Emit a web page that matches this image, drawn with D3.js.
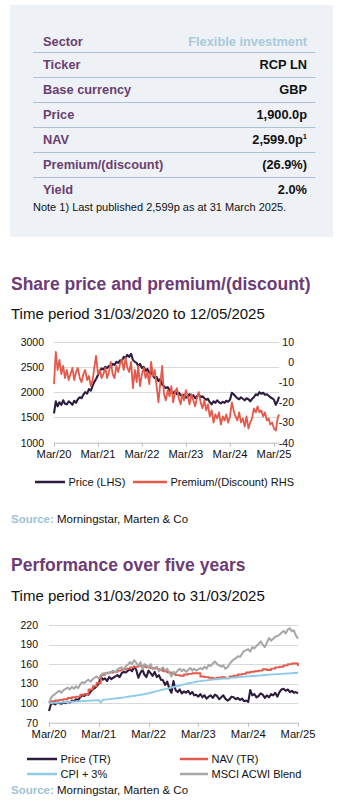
<!DOCTYPE html>
<html><head><meta charset="utf-8">
<script src="https://cdn.jsdelivr.net/npm/d3@7"></script>
<style>body{margin:0;background:#fff}svg{display:block}text{font-family:"Liberation Sans",Arial,sans-serif}</style>
</head><body><svg id="c" width="343" height="801"></svg>
<script>
// ---------- DATA ----------
const tableLabels = ["Sector","Ticker","Base currency","Price","NAV","Premium/(discount)","Yield"];
const tableValues = ["Flexible investment","RCP LN","GBP","1,900.0p","2,599.0p","(26.9%)","2.0%"];
const tableNote = "Note 1) Last published 2,599p as at 31 March 2025.";

const title1 = "Share price and premium/(discount)";
const subtitle1 = "Time period 31/03/2020 to 12/05/2025";
const title2 = "Performance over five years";
const subtitle2 = "Time period 31/03/2020 to 31/03/2025";

const xTickLabels = ["Mar/20","Mar/21","Mar/22","Mar/23","Mar/24","Mar/25"];
const leftTicks1 = [1000,1500,2000,2500,3000];
const rightTicks1 = [-40,-30,-20,-10,0,10];
const yTicks2 = [70,100,130,160,190,220];

// semi-monthly (mid / end of month) from 31/03/2020 to 12/05/2025
const sharePrice = [1580,
 1820,1720, 1800,1750, 1840,1770, 1760,1820, 1790,1750, 1830,1790, 1860,1900, 1880,1950, 2000,1970,
 2060,2030, 2130,2200, 2260,2340, 2420,2470, 2450,2500, 2480,2520, 2500,2560, 2540,2600, 2580,2630, 2620,2700, 2680,2740, 2700,2760,
 2640,2600, 2580,2520, 2560,2480, 2500,2420, 2460,2380, 2420,2330, 2280,2300, 2220,2260, 2150,2120, 2080,2100, 2040,2000, 1980,2020,
 1960,1990, 1940,1920, 1950,1890, 1920,1960, 1900,1940, 1880,1920, 1960,1900, 1920,1880, 1850,1870, 1800,1760, 1820,1790, 1840,1800,
 1780,1810, 1790,1830, 1810,1850, 1990,1960, 1920,1880, 1860,1900, 1870,1840, 1880,1860, 1820,1870, 1900,1960, 1940,2000, 1970,1990,
 1950,1960, 1930,1900, 1880,1850, 1750,1820, 1910];
const premiumDiscount = [-11,
 5,-4, 1,-6, -2,-8, -4,-9, -6,-3, -9,-5, -3,-8, -10,-6, -4,-9,
 -7,-12, -9,-3, 3,-6, -4,-8, -6,-3, -8,-5, 0,-6, -8,-2, -5,-1, 1,-4, 2,-3, -5,0,
 -13,-4, -10,-2, -12,-6, -3,-8, -5,-11, 0,-7, -4,-12, -20,-10, -2,-16, -19,-14, -17,-12, -20,-15,
 -13,-18, -21,-16, -19,-14, -17,-21, -16,-19, -22,-18, -15,-20, -23,-19, -24,-21, -27,-24, -30,-26, -28,-25,
 -31,-27, -29,-26, -30,-27, -20,-24, -27,-29, -25,-30, -28,-32, -27,-33, -30,-28, -23,-25, -22,-25, -24,-27,
 -25,-29, -28,-31, -30,-33, -34,-28, -26];

// semi-monthly from 31/03/2020 to 31/03/2025 (rebased to 100)
const priceTR = [88,
 99,100, 98,101, 100,99, 101,100, 102,101, 104,103, 106,105, 109,112, 111,114,
 113,118, 121,123, 126,130, 141,136, 138,134, 140,137, 139,141, 143,140, 146,148, 147,150, 152,149, 156,151,
 139,147, 151,144, 140,150, 146,142, 148,140, 143,136, 135,128, 133,122, 116,134, 120,117, 121,115, 118,116,
 119,114, 117,112, 113,110, 114,109, 112,107, 110,112, 108,113, 111,106, 109,112, 107,104, 106,110, 109,106,
 108,105, 107,103, 104,102, 120,112, 114,109, 111,115, 113,108, 112,109, 114,112, 116,110, 117,121, 122,119,
 121,117, 119,116, 117,115];
const navTR = [100,
 103,103, 104,104, 105,105, 106,106, 108,108, 109,109, 110,110, 113,113, 114,114,
 121,121, 126,126, 131,131, 143,143, 146,146, 147,147, 148,148, 150,150, 152,152, 153,153, 155,155, 156,156,
 157,157, 156,156, 155,155, 154,154, 153,153, 151,151, 149,149, 147,147, 145,145, 143,143, 142,142, 144,144,
 145,145, 146,146, 146,146, 141,141, 140,140, 139,139, 138,138, 139,139, 140,140, 138,138, 141,141, 142,142,
 144,144, 145,145, 147,147, 148,148, 149,149, 150,150, 152,152, 151,151, 153,153, 155,155, 156,156, 158,158,
 160,160, 161,161, 161,157];
const cpiPlus3 = [100,
 100.2,100.4, 100.5,100.7, 100.9,101.1, 101.3,101.5, 101.7,101.9, 102.1,102.3, 102.5,102.7, 102.9,103.1, 103.3,103.5,
 103.7,103.9, 104.1,104.3, 104.5,104.7, 101.0,105.2, 105.5,105.8, 106.2,106.5, 106.9,107.2, 107.6,108.0, 108.4,108.8, 109.3,109.8, 110.3,110.8, 111.3,111.8,
 112.3,112.8, 113.3,113.9, 114.5,115.2, 116.0,116.8, 117.6,118.4, 119.2,120.0, 120.8,121.6, 122.4,123.2, 124.0,124.8, 125.6,126.4, 127.2,128.0, 128.8,129.5,
 130.2,130.9, 131.6,132.2, 132.8,133.4, 133.8,134.2, 134.6,135.0, 135.4,135.8, 136.2,136.5, 136.8,137.1, 137.4,137.7, 138.0,138.3, 138.6,138.9, 139.2,139.5,
 139.8,140.1, 140.4,140.7, 141.0,141.2, 141.4,141.6, 141.8,142.0, 142.3,142.6, 142.9,143.2, 143.5,143.8, 144.0,144.2, 144.4,144.6, 144.8,145.0, 145.2,145.4,
 145.6,145.8, 146.0,146.2, 146.4,146.6];
const msciBlend = [100,
 108,112, 114,117, 119,116, 120,122, 124,121, 125,122, 126,123, 129,132, 131,134,
 136,133, 137,139, 141,138, 143,146, 144,147, 146,148, 150,147, 152,154, 155,151, 157,159, 163,160, 166,162,
 157,163, 152,160, 158,155, 160,152, 154,156, 149,152, 155,150, 153,147, 141,148, 146,150, 153,149, 152,148,
 151,154, 150,153, 150,152, 154,152, 156,153, 159,157, 161,164, 160,158, 156,158, 153,155, 160,164, 167,169,
 172,171, 176,180, 181,183, 179,186, 184,188, 191,195, 190,186, 193,200, 196,199, 202,203, 205,208, 211,207,
 213,215, 210,212, 204,199];

const legend1 = ["Price (LHS)","Premium/(Discount) RHS"];
const legend2 = ["Price (TR)","NAV (TR)","CPI + 3%","MSCI ACWI Blend"];

// ---------- HELPERS ----------
const startDate = new Date(2020, 2, 31);
function semiMonthlyDates(n, lastDate) {
  const out = [startDate];
  for (let i = 1; i < n; i++) {
    const k = Math.ceil(i / 2);
    out.push(i % 2 === 1 ? new Date(2020, 2 + k, 15) : new Date(2020, 3 + k, 0));
  }
  if (lastDate) out[n - 1] = lastDate;
  return out;
}
const tickDates = xTickLabels.map((_, j) => new Date(2020 + j, 2, 31));

const C = { purple: "#6e3b75", label: "#6a3f6f", dark: "#2e1c3e", red: "#e4594a", blue: "#8ecbe8", gray: "#a6a6a6", grid: "#d9d9d9", axis: "#bfbfbf", src: "#9dc4d6" };

const svg = d3.select("#c");

// ---------- TABLE ----------
svg.append("rect").attr("x", 10).attr("y", 5).attr("width", 323).attr("height", 232).attr("fill", "#eef2f6");
const tbl = svg.append("g");
const lineYs = d3.range(6).map(i => 52 + 25 * i);
tbl.selectAll("line.row").data(lineYs).join("line")
  .attr("x1", 33).attr("x2", 315.5).attr("y1", d => d + 0.5).attr("y2", d => d + 0.5)
  .attr("stroke", "#a9c3d2").attr("stroke-width", 1);
const baseY = i => i === 0 ? 45.7 : 69.3 + 25 * (i - 1);
tbl.selectAll("text.lab").data(tableLabels).join("text")
  .attr("x", 43).attr("y", (d, i) => baseY(i))
  .attr("font-size", 12.8).attr("font-weight", "bold").attr("fill", C.label).text(d => d);
tableValues.forEach((v, i) => {
  const t = tbl.append("text").attr("x", 307).attr("y", baseY(i)).attr("text-anchor", "end")
    .attr("font-size", 12.8).attr("font-weight", "bold").attr("fill", i === 0 ? "#a9cadb" : "#111");
  t.append("tspan").text(v);
  if (i === 4) t.append("tspan").attr("font-size", 7.5).attr("dy", -5).text("1");
});
tbl.append("text").attr("x", 33).attr("y", 211).attr("font-size", 11).attr("fill", "#111").text(tableNote);

// ---------- TITLES ----------
function titles(t, s, yT, yS) {
  svg.append("text").attr("x", 11).attr("y", yT).attr("font-size", 17.5).attr("font-weight", "bold").attr("fill", C.purple).text(t);
  svg.append("text").attr("x", 11).attr("y", yS).attr("font-size", 15).attr("fill", "#111").text(s);
}
function source(y) {
  const t = svg.append("text").attr("x", 11).attr("y", y).attr("font-size", 11.5);
  t.append("tspan").attr("font-weight", "bold").attr("fill", C.src).text("Source:");
  t.append("tspan").attr("fill", "#111").text(" Morningstar, Marten & Co");
}
function xAxis(x, y0, x0, x1) {
  const g = svg.append("g");
  g.append("line").attr("x1", x0).attr("x2", x1).attr("y1", y0 + 0.5).attr("y2", y0 + 0.5).attr("stroke", C.axis);
  g.selectAll("line.t").data(tickDates).join("line")
    .attr("x1", d => Math.round(x(d)) + 0.5).attr("x2", d => Math.round(x(d)) + 0.5)
    .attr("y1", y0).attr("y2", y0 + 4).attr("stroke", C.axis);
  g.selectAll("text").data(xTickLabels).join("text")
    .attr("x", (d, i) => x(tickDates[i])).attr("y", y0 + 15.5).attr("text-anchor", "middle")
    .attr("font-size", 11.2).attr("fill", "#111").text(d => d);
}
function legendItem(x, y, w, color, label) {
  svg.append("line").attr("x1", x).attr("x2", x + w).attr("y1", y).attr("y2", y).attr("stroke", color).attr("stroke-width", 2.5);
  svg.append("text").attr("x", x + w + 3.5).attr("y", y + 4).attr("font-size", 11).attr("fill", "#111").text(label);
}

// ---------- CHART 1 ----------
titles(title1, subtitle1, 289.5, 318.5);
{
  const dates = semiMonthlyDates(sharePrice.length, new Date(2025, 4, 12));
  const x = d3.scaleTime().domain([startDate, tickDates[5]]).range([54, 274]);
  const yL = d3.scaleLinear().domain([1000, 3000]).range([442.7, 341.7]);
  const yR = d3.scaleLinear().domain([-40, 10]).range([442.7, 341.7]);
  const xEnd = x(dates[dates.length - 1]);
  svg.append("g").selectAll("line").data(leftTicks1.filter(v => v > 1000)).join("line")
    .attr("x1", 54).attr("x2", xEnd).attr("y1", d => Math.round(yL(d)) + 0.5).attr("y2", d => Math.round(yL(d)) + 0.5)
    .attr("stroke", C.grid);
  svg.append("g").selectAll("text").data(leftTicks1).join("text")
    .attr("x", 44).attr("y", d => yL(d) + 3.8).attr("text-anchor", "end").attr("font-size", 10.5).attr("fill", "#111").text(d => d);
  svg.append("g").selectAll("text").data(rightTicks1).join("text")
    .attr("x", 294).attr("y", d => yR(d) + 3.8).attr("text-anchor", "end").attr("font-size", 10.5).attr("fill", "#111").text(d => d);
  xAxis(x, 442.7, 54, xEnd);
  svg.append("path").datum(sharePrice).attr("fill", "none").attr("stroke", C.dark).attr("stroke-width", 2.1)
    .attr("stroke-linejoin", "round").attr("d", d3.line().x((d, i) => x(dates[i])).y(d => yL(d)));
  svg.append("path").datum(premiumDiscount).attr("fill", "none").attr("stroke", C.red).attr("stroke-width", 1.8)
    .attr("stroke-linejoin", "round").attr("d", d3.line().x((d, i) => x(dates[i])).y(d => yR(d)));
  legendItem(35, 482, 30, C.dark, legend1[0]);
  legendItem(133, 482, 34, C.red, legend1[1]);
}
source(523);

// ---------- CHART 2 ----------
titles(title2, subtitle2, 571, 600.5);
{
  const dates = semiMonthlyDates(priceTR.length);
  const x = d3.scaleTime().domain([startDate, tickDates[5]]).range([49, 298]);
  const y = d3.scaleLinear().domain([70, 220]).range([722.7, 625]);
  svg.append("g").selectAll("line").data(yTicks2.filter(v => v > 70)).join("line")
    .attr("x1", 49).attr("x2", 298).attr("y1", d => Math.round(y(d)) + 0.5).attr("y2", d => Math.round(y(d)) + 0.5)
    .attr("stroke", C.grid);
  svg.append("g").selectAll("text").data(yTicks2).join("text")
    .attr("x", 38).attr("y", d => y(d) + 3.8).attr("text-anchor", "end").attr("font-size", 10.5).attr("fill", "#111").text(d => d);
  xAxis(x, 722.7, 49, 298);
  const series = [[priceTR, C.dark, d3.curveLinear, 2.1], [navTR, C.red, d3.curveStepAfter, 1.9], [cpiPlus3, C.blue, d3.curveLinear, 1.9], [msciBlend, C.gray, d3.curveLinear, 2]];
  series.forEach(([vals, col, curve, w]) => {
    svg.append("path").datum(vals).attr("fill", "none").attr("stroke", col).attr("stroke-width", w)
      .attr("stroke-linejoin", "round").attr("d", d3.line().curve(curve).x((d, i) => x(dates[i])).y(d => y(d)));
  });
  legendItem(27, 759, 30, C.dark, legend2[0]);
  legendItem(180, 759, 28, C.red, legend2[1]);
  legendItem(27, 774, 30, C.blue, legend2[2]);
  legendItem(180, 774, 28, C.gray, legend2[3]);
}
source(794);
</script></body></html>
